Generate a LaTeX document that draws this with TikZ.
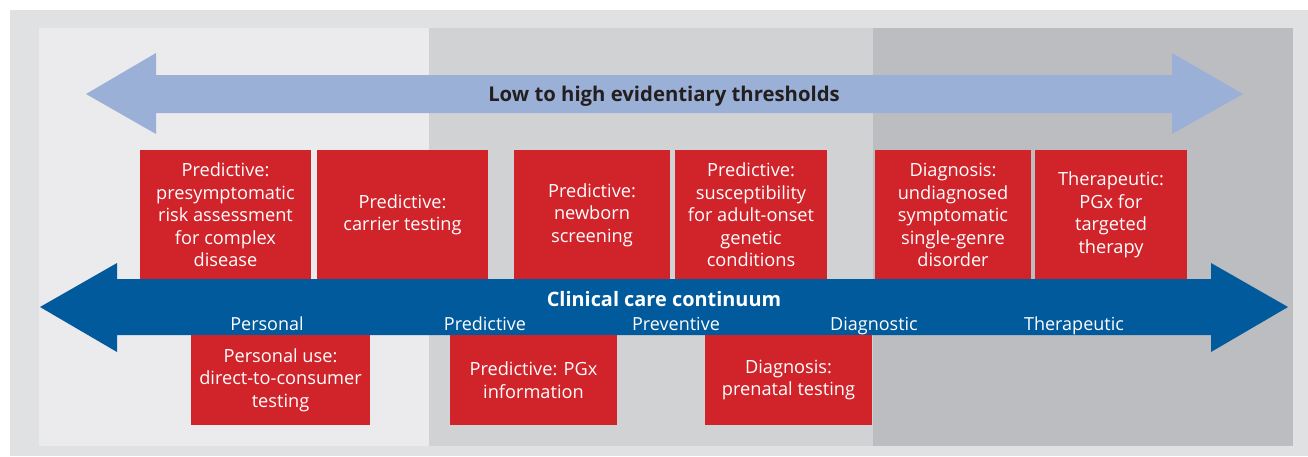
\documentclass[tikz,border=0pt]{standalone}
\usepackage{fontspec}
\setmainfont{Open Sans}
\usepackage{xcolor}
\usepackage{tikz}

\definecolor{framegray}{HTML}{E0E1E3}
\definecolor{zonelight}{HTML}{EBEBED}
\definecolor{zonemid}{HTML}{D1D2D4}
\definecolor{zonedark}{HTML}{BCBDC1}
\definecolor{thresholdblue}{HTML}{9BB0D6}
\definecolor{careblue}{HTML}{005A9C}
\definecolor{testred}{HTML}{D0232A}
\definecolor{inkdark}{HTML}{231F20}

\tikzset{
  testbox/.style={fill=testred, text=white, align=center, inner sep=0pt,
    font=\fontsize{18.2}{22.5}\selectfont},
  stagelabel/.style={text=white, anchor=base, font=\fontsize{18}{21}\selectfont},
}

\begin{document}
\begin{tikzpicture}[x=1pt, y=-1pt]
		\useasboundingbox (0,0) rectangle (1308,456);
		% frame and the three zones
		\fill[color=framegray] (10,10) rectangle (1308,456);
		\fill[color=zonelight] (39,28) rectangle (429,446);
		\fill[color=zonemid] (429,28) rectangle (873,446);
		\fill[color=zonedark] (873,28) rectangle (1293,446);
		% evidentiary thresholds
		\fill[color=thresholdblue] (86,94) -- (156,53) -- (156,75) -- (1172,75) -- (1172,53) -- (1243,94)
			-- (1172,134) -- (1172,113) -- (156,113) -- (156,134) -- cycle;
		\node[anchor=base, text=inkdark, font=\fontsize{20.3}{24}\selectfont\bfseries] (thresholds) at (664,101) {Low to high evidentiary thresholds};
		% upper tests
		\node[testbox, minimum width=171pt, minimum height=130pt] (presym) at (225.5,215) {Predictive:\\presymptomatic\\risk assessment\\for complex\\disease};
		\node[testbox, minimum width=171pt, minimum height=130pt] (carrier) at (402.5,215) {Predictive:\\carrier testing};
		\node[testbox, minimum width=156pt, minimum height=130pt] (newborn) at (592,215) {Predictive:\\newborn\\screening};
		\node[testbox, minimum width=152pt, minimum height=130pt] (adultonset) at (751,215) {Predictive:\\susceptibility\\for adult-onset\\genetic\\conditions};
		\node[testbox, minimum width=156pt, minimum height=130pt] (undiag) at (953,215) {Diagnosis:\\undiagnosed\\symptomatic\\single-genre\\disorder};
		\node[testbox, minimum width=152pt, minimum height=130pt] (pgxtherapy) at (1111,215) {Therapeutic:\\PGx for\\targeted\\therapy};
		% clinical care continuum
		\fill[color=careblue] (40,307) -- (117,263) -- (117,279) -- (1211,279) -- (1211,263) -- (1288,307)
			-- (1211,352) -- (1211,335) -- (117,335) -- (117,352) -- cycle;
		\node[anchor=base, text=white, font=\fontsize{19.9}{23}\selectfont\bfseries] (continuum) at (664,306) {Clinical care continuum};
		\node[stagelabel] (personal) at (267,330) {Personal};
		\node[stagelabel] (predictive) at (485,330) {Predictive};
		\node[stagelabel] (preventive) at (676,330) {Preventive};
		\node[stagelabel] (diagnostic) at (874,330) {Diagnostic};
		\node[stagelabel] (therapeutic) at (1074,330) {Therapeutic};
		% lower tests
		\node[testbox, minimum width=179pt, minimum height=90pt] (dtc) at (280.5,380) {Personal use:\\direct-to-consumer\\testing};
		\node[testbox, minimum width=167pt, minimum height=90pt] (pgxinfo) at (533.5,380) {Predictive: PGx\\information};
		\node[testbox, minimum width=167pt, minimum height=90pt] (prenatal) at (788.5,380) {Diagnosis:\\prenatal testing};
\end{tikzpicture}
\end{document}
